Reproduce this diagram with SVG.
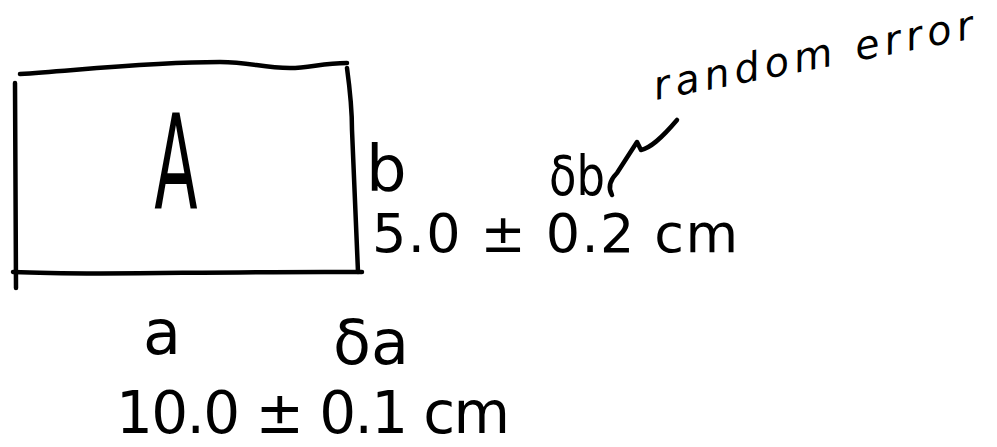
<svg xmlns="http://www.w3.org/2000/svg" width="997" height="447" viewBox="0 0 997 447">
<style>
.ink{fill:none;stroke:#000;stroke-width:4.5;stroke-linecap:round;stroke-linejoin:round}
.t{font-family:"DejaVu Sans","Liberation Sans",sans-serif;fill:#000}
</style>
<rect width="997" height="447" fill="#fff"/>
<g id="rectangle">
<path class="ink" d="M20,74 C80,70 150,62 220,62 C250,62 262,68 290,68 C310,68 322,63 347,63"/>
<path class="ink" d="M15,83 L16,288"/>
<path class="ink" d="M13,272 C100,276 200,271 362,272"/>
<path class="ink" d="M347,68 C350,90 352,110 352,130 L358,272"/>
<text class="t" transform="translate(176,209) scale(0.48,1)" text-anchor="middle" font-size="132">A</text>
</g>
<g id="side-b">
<text class="t" x="366" y="191" font-size="64">b</text>
<text class="t" x="372" y="252" font-size="54" textLength="366" lengthAdjust="spacing">5.0 ± 0.2 cm</text>
<text class="t" transform="translate(549,195) scale(0.8,1)" font-size="56">δb</text>
</g>
<g id="side-a">
<text class="t" x="143" y="354" font-size="62">a</text>
<text class="t" x="333" y="364" font-size="62">δa</text>
<text class="t" x="116" y="433" font-size="58" textLength="394" lengthAdjust="spacing">10.0 ± 0.1 cm</text>
</g>
<g id="annotation">
<path class="ink" d="M612,195 C608,188 610,180 617,173 L637,142 L641,150 C650,148 660,140 677,120"/>
<text class="t" transform="translate(656,100) rotate(-11)" font-size="40" font-style="italic" textLength="325" lengthAdjust="spacing">random error</text>
</g>
</svg>
